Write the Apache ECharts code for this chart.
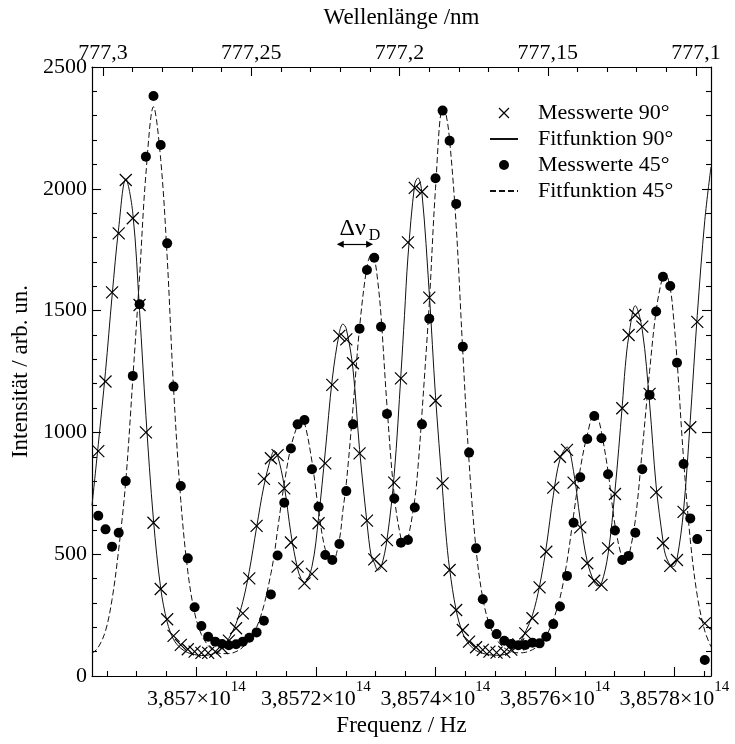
<!DOCTYPE html>
<html>
<head>
<meta charset="utf-8">
<script src="https://cdn.jsdelivr.net/npm/echarts@6/dist/echarts.min.js"></script>
<style>
  html, body { margin: 0; padding: 0; background: #fff; }
  #chart { width: 735px; height: 744px; }
</style>
</head>
<body>
<div id="chart"></div>
<script>
// Frequencies are given in units of 10^14 Hz, intensities in arbitrary units.
const freqMin = 3.8568253;
const freqMax = 3.8578613;

// Measurement grid (both measurement series share the frequency steps)
const measFreq = [
  3.8568358, 3.8568479, 3.8568589, 3.8568700, 3.8568818, 3.8568936, 3.8569049, 3.8569155, 3.8569282, 3.8569403,
  3.8569511, 3.8569618, 3.8569739, 3.8569856, 3.8569970, 3.8570084, 3.8570197, 3.8570316, 3.8570430, 3.8570544,
  3.8570664, 3.8570777, 3.8570885, 3.8571008, 3.8571130, 3.8571247, 3.8571359, 3.8571471, 3.8571582, 3.8571694,
  3.8571809, 3.8571935, 3.8572045, 3.8572157, 3.8572275, 3.8572393, 3.8572509, 3.8572621, 3.8572731, 3.8572855,
  3.8572977, 3.8573090, 3.8573190, 3.8573312, 3.8573424, 3.8573541, 3.8573655, 3.8573776, 3.8573898, 3.8574002,
  3.8574121, 3.8574238, 3.8574348, 3.8574459, 3.8574564, 3.8574681, 3.8574793, 3.8574905, 3.8575024, 3.8575153,
  3.8575270, 3.8575388, 3.8575505, 3.8575625, 3.8575744, 3.8575856, 3.8575973, 3.8576085, 3.8576203, 3.8576313,
  3.8576425, 3.8576542, 3.8576659, 3.8576780, 3.8576890, 3.8577006, 3.8577128, 3.8577234, 3.8577346, 3.8577463,
  3.8577585, 3.8577695, 3.8577809, 3.8577931, 3.8578044, 3.8578154, 3.8578266, 3.8578383, 3.8578509
];

// Messwerte 90°
const mess90 = [
  923, 1209, 1575, 1817, 2036, 1879, 1523, 1000, 629, 357,
  233, 165, 128, 110, 100, 95, 95, 100, 115, 145,
  196, 257, 401, 616, 809, 894, 907, 770, 548, 449,
  380, 419, 627, 873, 1195, 1396, 1382, 1284, 914, 638,
  479, 452, 558, 794, 1222, 1780, 2004, 1988, 1553, 1130,
  791, 435, 271, 189, 141, 118, 107, 100, 96, 99,
  108, 130, 175, 237, 364, 510, 773, 900, 928, 794,
  610, 463, 391, 374, 524, 747, 1099, 1400, 1482, 1434,
  1158, 754, 545, 452, 476, 674, 1021, 1454, 216
];

// Messwerte 45°
const mess45 = [
  658, 602, 531, 588, 800, 1232, 1526, 2132, 2381, 2180,
  1776, 1188, 780, 483, 282, 205, 161, 141, 131, 126,
  130, 141, 157, 179, 227, 335, 495, 711, 934, 1033,
  1051, 849, 695, 497, 476, 542, 759, 1033, 1426, 1667,
  1717, 1434, 1076, 729, 547, 558, 692, 1033, 1467, 2043,
  2321, 2197, 1938, 1352, 917, 524, 315, 213, 172, 145,
  131, 126, 127, 137, 134, 161, 213, 285, 411, 629,
  816, 973, 1067, 976, 828, 597, 476, 493, 588, 849,
  1154, 1496, 1639, 1601, 1286, 870, 647, 562, 66
];

// Sampling points of the two fit curves
const fitFreq = [
  3.8568253, 3.8568358, 3.8568479, 3.8568589, 3.8568700, 3.8568818, 3.8568936, 3.8569049, 3.8569155, 3.8569282,
  3.8569403, 3.8569511, 3.8569618, 3.8569739, 3.8569856, 3.8569970, 3.8570084, 3.8570197, 3.8570316, 3.8570430,
  3.8570544, 3.8570664, 3.8570777, 3.8570885, 3.8571008, 3.8571130, 3.8571247, 3.8571304, 3.8571359, 3.8571471,
  3.8571582, 3.8571694, 3.8571752, 3.8571809, 3.8571935, 3.8572045, 3.8572157, 3.8572275, 3.8572393, 3.8572452,
  3.8572509, 3.8572621, 3.8572731, 3.8572855, 3.8572927, 3.8572977, 3.8573036, 3.8573090, 3.8573190, 3.8573312,
  3.8573424, 3.8573483, 3.8573541, 3.8573655, 3.8573710, 3.8573776, 3.8573898, 3.8574002, 3.8574121, 3.8574174,
  3.8574238, 3.8574348, 3.8574459, 3.8574564, 3.8574681, 3.8574793, 3.8574905, 3.8575024, 3.8575153, 3.8575270,
  3.8575388, 3.8575505, 3.8575625, 3.8575744, 3.8575856, 3.8575973, 3.8576085, 3.8576203, 3.8576313, 3.8576425,
  3.8576542, 3.8576659, 3.8576720, 3.8576780, 3.8576890, 3.8577006, 3.8577128, 3.8577178, 3.8577234, 3.8577346,
  3.8577463, 3.8577585, 3.8577695, 3.8577809, 3.8577848, 3.8577931, 3.8577987, 3.8578044, 3.8578154, 3.8578266,
  3.8578383, 3.8578509, 3.8578613
];

// Fitfunktion 90°
const fit90 = [
  700, 950, 1250, 1560, 1840, 2040, 1900, 1500, 1070, 640,
  360, 222, 150, 114, 96, 88, 84, 86, 95, 115,
  155, 215, 305, 430, 610, 780, 895, 925, 905, 780,
  585, 440, 400, 385, 450, 650, 920, 1220, 1410, 1445,
  1425, 1260, 930, 630, 490, 465, 435, 445, 560, 830,
  1240, 1480, 1720, 2020, 2045, 1980, 1570, 1150, 760, 590,
  440, 270, 175, 130, 104, 93, 87, 85, 88, 100,
  128, 180, 250, 370, 530, 740, 890, 940, 840, 640,
  470, 385, 370, 380, 500, 760, 1110, 1270, 1390, 1520,
  1420, 1120, 780, 555, 500, 455, 450, 480, 680, 1050,
  1480, 1870, 2090
];

// Fitfunktion 45°
const fit45 = [
  92, 118, 185, 315, 520, 800, 1220, 1640, 2060, 2337,
  2120, 1720, 1180, 720, 430, 260, 170, 125, 100, 92,
  92, 100, 118, 150, 200, 290, 420, 500, 600, 790,
  940, 1030, 1050, 1040, 880, 680, 520, 465, 560, 680,
  790, 1100, 1430, 1680, 1728, 1715, 1620, 1480, 1110, 740,
  565, 540, 565, 725, 860, 1080, 1530, 2000, 2330, 2310,
  2200, 1850, 1330, 880, 520, 320, 210, 150, 115, 100,
  95, 97, 108, 128, 165, 230, 320, 470, 660, 850,
  990, 1075, 1060, 1000, 840, 620, 480, 470, 490, 640,
  930, 1250, 1500, 1645, 1653, 1590, 1470, 1300, 890, 560,
  330, 185, 120
];

// Axis ticks
const freqTicks = [3.857, 3.8572, 3.8574, 3.8576, 3.8578];
const wavelengthTicks = [777.3, 777.25, 777.2, 777.15, 777.1];
const intensityMax = 2500;
const intensityStep = 500;

// Doppler width marker
const dopplerFreq = [3.8572408, 3.8572899];
const dopplerLevel = 1772;

// lambda[nm] = C_NM / nu[10^14 Hz]
const C_NM = 2997.92458;

const FONT = 'Liberation Serif';
const BLACK = '#000';

function zip(xs, ys) { return xs.map((x, i) => [x, ys[i]]); }

// Minor ticks: every 0.5e10 Hz on the frequency axis, every 0.01 nm on the wavelength axis
const freqMinor = [];
for (let k = Math.ceil(freqMin / 0.00005); k * 0.00005 <= freqMax; k++) {
  if (k % 4 !== 0) freqMinor.push(+(k * 0.00005).toFixed(6));
}
const wavelengthMinor = [];
for (let k = 77710; k <= 77730; k++) {
  if (k % 5 !== 0) wavelengthMinor.push(C_NM / (k / 100));
}
const wavelengthTickFreq = wavelengthTicks.map(l => C_NM / l);

function fmtFreq(v) {
  const s = v.toFixed(4).replace(/0+$/, '').replace('.', ',');
  return '{b|' + s + '×10}{s|14}';
}
function fmtWavelength(v) {
  const l = C_NM / v;
  return l.toFixed(2).replace(/0+$/, '').replace(/\.$/, '').replace('.', ',');
}

const axisLineStyle = { color: BLACK, width: 1.2 };
const tickLineStyle = { color: BLACK, width: 1.1 };
const labelStyle = { fontFamily: FONT, fontSize: 22, color: BLACK };
const nameStyle = { fontFamily: FONT, fontSize: 23, color: BLACK };

const grid = { left: 92, right: 24, top: 67, bottom: 68, containLabel: false };

// legend entries of the fit curves show only their line
const lineOnlyIcon = { color: 'rgba(0,0,0,0)', borderWidth: 0, opacity: 0 };

const option = {
  animation: false,
  textStyle: { fontFamily: FONT },
  grid: [Object.assign({}, grid), Object.assign({}, grid)],
  legend: {
    orient: 'vertical',
    left: 484,
    top: 97,
    itemWidth: 28,
    itemHeight: 10,
    itemGap: 4,
    selectedMode: false,
    textStyle: { fontFamily: FONT, fontSize: 22, color: BLACK, lineHeight: 22, padding: [0, 0, 0, 15] },
    data: [
      { name: 'Messwerte 90°', itemStyle: { borderWidth: 1.2, opacity: 1 } },
      { name: 'Fitfunktion 90°', itemStyle: lineOnlyIcon },
      { name: 'Messwerte 45°', itemStyle: { opacity: 1 } },
      { name: 'Fitfunktion 45°', itemStyle: lineOnlyIcon }
    ]
  },
  xAxis: [
    {
      gridIndex: 0, type: 'value', position: 'bottom',
      min: freqMin, max: freqMax,
      name: 'Frequenz / Hz', nameLocation: 'middle', nameGap: 38, nameTextStyle: nameStyle,
      axisLine: { show: true, onZero: false, lineStyle: axisLineStyle },
      axisTick: { show: true, inside: true, length: 9, customValues: freqTicks, lineStyle: tickLineStyle },
      axisLabel: {
        show: true, margin: 4, customValues: freqTicks, formatter: fmtFreq,
        rich: {
          b: { fontFamily: FONT, fontSize: 22, color: BLACK, lineHeight: 30, verticalAlign: 'bottom' },
          s: { fontFamily: FONT, fontSize: 15, color: BLACK, lineHeight: 15, verticalAlign: 'top' }
        }
      },
      splitLine: { show: false }
    },
    {
      gridIndex: 0, type: 'value', position: 'top',
      min: freqMin, max: freqMax,
      name: 'Wellenlänge /nm', nameLocation: 'middle', nameGap: 38, nameTextStyle: nameStyle,
      axisLine: { show: true, onZero: false, lineStyle: axisLineStyle },
      axisTick: { show: true, inside: true, length: 9, customValues: wavelengthTickFreq, lineStyle: tickLineStyle },
      axisLabel: Object.assign({ show: true, margin: 3, customValues: wavelengthTickFreq, formatter: fmtWavelength }, labelStyle),
      splitLine: { show: false }
    },
    {
      gridIndex: 1, type: 'value', position: 'bottom',
      min: freqMin, max: freqMax,
      axisLine: { show: false },
      axisTick: { show: true, inside: true, length: 5, customValues: freqMinor, lineStyle: tickLineStyle },
      axisLabel: { show: false },
      splitLine: { show: false }
    },
    {
      gridIndex: 1, type: 'value', position: 'top',
      min: freqMin, max: freqMax,
      axisLine: { show: false },
      axisTick: { show: true, inside: true, length: 5, customValues: wavelengthMinor, lineStyle: tickLineStyle },
      axisLabel: { show: false },
      splitLine: { show: false }
    }
  ],
  yAxis: [
    {
      gridIndex: 0, type: 'value', position: 'left',
      min: 0, max: intensityMax, interval: intensityStep,
      name: 'Intensität / arb. un.', nameLocation: 'middle', nameGap: 58, nameTextStyle: nameStyle,
      axisLine: { show: true, onZero: false, lineStyle: axisLineStyle },
      axisTick: { show: true, inside: true, length: 9, lineStyle: tickLineStyle },
      minorTick: { show: true, splitNumber: 5, length: 5, lineStyle: tickLineStyle },
      axisLabel: Object.assign({ show: true, margin: 5, formatter: v => String(v) }, labelStyle),
      splitLine: { show: false }
    },
    {
      gridIndex: 0, type: 'value', position: 'right',
      min: 0, max: intensityMax, interval: intensityStep,
      axisLine: { show: true, onZero: false, lineStyle: axisLineStyle },
      axisTick: { show: true, inside: true, length: 9, lineStyle: tickLineStyle },
      minorTick: { show: true, splitNumber: 5, length: 5, lineStyle: tickLineStyle },
      axisLabel: { show: false },
      splitLine: { show: false }
    },
    {
      gridIndex: 1, type: 'value', show: false, min: 0, max: intensityMax
    }
  ],
  series: [
    {
      name: 'Fitfunktion 90°', type: 'line', xAxisIndex: 0, yAxisIndex: 0,
      data: zip(fitFreq, fit90), symbol: 'none', showSymbol: false, smooth: 0.35,
      lineStyle: { color: '#111', width: 1 }, itemStyle: { color: '#111' }, z: 2
    },
    {
      name: 'Fitfunktion 45°', type: 'line', xAxisIndex: 0, yAxisIndex: 0,
      data: zip(fitFreq, fit45), symbol: 'none', showSymbol: false, smooth: 0.35,
      lineStyle: { color: '#111', width: 1, type: [6, 3] }, itemStyle: { color: '#111' }, z: 2
    },
    {
      name: 'Messwerte 90°', type: 'scatter', xAxisIndex: 0, yAxisIndex: 0,
      data: zip(measFreq, mess90),
      symbol: 'path://M0,0L10,10M10,0L0,10', symbolSize: 12,
      itemStyle: { color: BLACK, borderColor: BLACK, borderWidth: 1.2, opacity: 1 }, z: 3
    },
    {
      name: 'Messwerte 45°', type: 'scatter', xAxisIndex: 0, yAxisIndex: 0,
      data: zip(measFreq, mess45),
      symbol: 'circle', symbolSize: 10,
      itemStyle: { color: BLACK, opacity: 1 }, z: 4,
      markLine: {
        silent: true,
        animation: false,
        symbol: ['triangle', 'triangle'],
        symbolSize: 7,
        lineStyle: { color: BLACK, width: 1.2, type: 'solid', opacity: 1 },
        label: {
          show: true, position: 'insideMiddleTop', distance: 1,
          padding: [0, 0, 0, 10],
          formatter: '{d|Δν}{s|D}',
          rich: {
            d: { fontFamily: FONT, fontSize: 24, color: BLACK, lineHeight: 27, verticalAlign: 'top' },
            s: { fontFamily: FONT, fontSize: 16, color: BLACK, lineHeight: 17, verticalAlign: 'bottom', padding: [0, 0, 0, 3] }
          }
        },
        data: [[
          { coord: [dopplerFreq[0], dopplerLevel] },
          { coord: [dopplerFreq[1], dopplerLevel] }
        ]]
      }
    }
  ]
};

const chart = echarts.init(document.getElementById('chart'), null, { renderer: 'canvas' });
chart.setOption(option);
</script>
</body>
</html>
